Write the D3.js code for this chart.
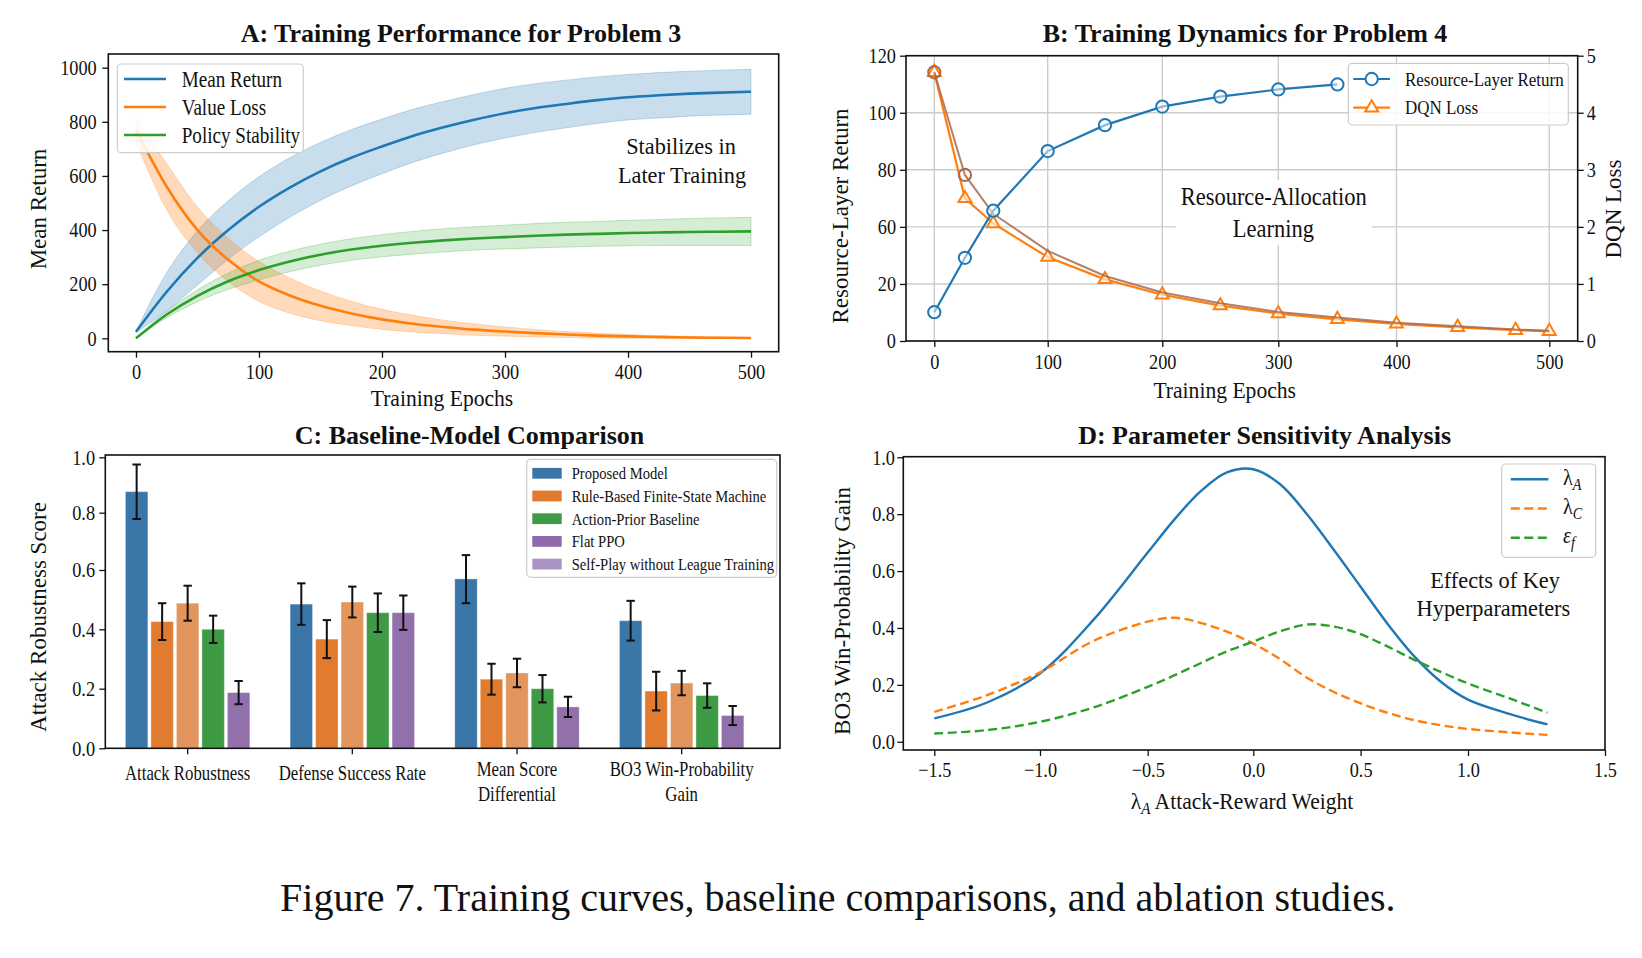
<!DOCTYPE html>
<html>
<head>
<meta charset="utf-8">
<script src="https://cdn.jsdelivr.net/npm/d3@7"></script>
<style>
  body { margin: 0; background: #fff; }
  svg text { font-family: "Liberation Serif", "Times New Roman", Times, serif; fill: #111; }
</style>
</head>
<body>
<script>
// ---------- data ----------
// A: training performance (problem 3)
var epochsA = [0, 25, 50, 75, 100, 125, 150, 175, 200, 225, 250, 275, 300, 325, 350, 375, 400, 425, 450, 475, 500];
var meanReturn   = [24, 172, 297, 400, 486, 557, 617, 667, 709, 748, 780, 808, 832, 851, 866, 880, 891, 898, 904, 908, 911];
var meanReturnHi = [26, 242, 397, 508, 597, 667, 724, 771, 810, 846, 875, 901, 924, 941, 954, 966, 975, 982, 987, 991, 994];
var meanReturnLo = [22, 102, 197, 292, 375, 447, 510, 563, 608, 650, 685, 715, 740, 761, 778, 794, 807, 814, 821, 825, 828];
var valueLoss    = [770, 560, 400, 290, 210, 158, 120, 92, 70, 54, 42, 32, 25, 19, 14, 10, 7, 5, 3, 2, 1];
var valueLossHi  = [815, 645, 485, 370, 284, 223, 175, 137, 107, 85, 67, 53, 42, 33, 25, 19, 14, 10, 7, 5, 3];
var valueLossLo  = [725, 475, 315, 210, 136, 93, 65, 47, 33, 23, 17, 11, 8, 5, 3, 1, 0, 0, 0, 0, 0];
var policyStab   = [0, 88, 157, 211, 252, 284, 309, 328, 342, 353, 362, 369, 374, 379, 383, 386, 389, 391, 393, 394, 395];
var policyStabHi = [1, 100, 179, 241, 288, 322, 348, 368, 383, 395, 405, 412, 418, 424, 429, 432, 436, 439, 443, 445, 447];
var policyStabLo = [-1, 76, 135, 181, 216, 246, 270, 288, 301, 311, 319, 326, 330, 334, 337, 340, 342, 343, 343, 343, 343];
var ticksA_x = [0, 100, 200, 300, 400, 500];
var ticksA_y = [0, 200, 400, 600, 800, 1000];

// B: training dynamics (problem 4)
var epochsB = [0, 27, 52, 100, 150, 200, 250, 300, 350];
var resourceReturn = [12.1, 35.0, 54.8, 79.9, 90.8, 98.6, 102.8, 105.8, 107.9];
var epochsLoss = [0, 27, 52, 100, 150, 200, 250, 300, 350, 400, 440, 478, 500];
var dqnLoss    = [4.71, 2.50, 2.06, 1.47, 1.08, 0.81, 0.62, 0.48, 0.38, 0.30, 0.24, 0.19, 0.17];
var dqnLossRaw = [4.71, 2.91, 2.23, 1.58, 1.14, 0.85, 0.66, 0.51, 0.41, 0.32, 0.26, 0.20, 0.18];
var rawMarked  = [0, 27];
var ticksB_x = [0, 100, 200, 300, 400, 500];
var ticksB_left = [0, 24, 48, 72, 96, 120];
var labelsB_left = ["0", "20", "60", "80", "100", "120"];
var ticksB_right = [0, 1, 2, 3, 4, 5];

// C: baseline comparison
var metrics = ["Attack Robustness", "Defense Success Rate", "Mean Score\nDifferential", "BO3 Win-Probability\nGain"];
var models = ["Proposed Model", "Rule-Based Finite-State Machine", "Action-Prior Baseline", "Flat PPO", "Self-Play without League Training"];
var proposedScore = [0.876, 0.485, 0.570, 0.429];
var ruleScore     = [0.426, 0.367, 0.232, 0.192];
var ruleScore2    = [0.488, 0.492, 0.253, 0.219];
var priorScore    = [0.400, 0.456, 0.200, 0.177];
var ppoScore      = [0.187, 0.456, 0.139, 0.110];
var proposedErr = [0.098, 0.070, 0.082, 0.067];
var ruleErr     = [0.062, 0.064, 0.052, 0.065];
var ruleErr2    = [0.059, 0.052, 0.048, 0.041];
var priorErr    = [0.046, 0.065, 0.046, 0.041];
var ppoErr      = [0.039, 0.058, 0.034, 0.032];
var ticksC_y = [0, 0.2, 0.4, 0.6, 0.8, 1.0];

// D: parameter sensitivity
var sensX       = [-1.5, -1.25, -1.0, -0.75, -0.5, -0.375, -0.25, -0.125, 0.0, 0.125, 0.25, 0.375, 0.5, 0.625, 0.75, 0.875, 1.0, 1.15, 1.29];
var gainLambdaA = [0.082, 0.138, 0.24, 0.43, 0.665, 0.78, 0.88, 0.947, 0.958, 0.905, 0.80, 0.675, 0.545, 0.415, 0.30, 0.21, 0.148, 0.098, 0.061];
var gainLambdaC = [0.105, 0.164, 0.244, 0.355, 0.422, 0.436, 0.418, 0.387, 0.345, 0.29, 0.225, 0.175, 0.135, 0.102, 0.076, 0.058, 0.045, 0.033, 0.024];
var gainEpsF    = [0.029, 0.041, 0.07, 0.121, 0.193, 0.233, 0.276, 0.318, 0.352, 0.388, 0.412, 0.405, 0.378, 0.335, 0.288, 0.245, 0.205, 0.153, 0.102];
var ticksD_x = [-1.5, -1.0, -0.5, 0, 0.5, 1.0, 1.5];
var ticksD_y = [0, 0.2, 0.4, 0.6, 0.8, 1.0];

// ---------- helpers ----------
var svg = d3.select("body").append("svg").attr("width", 1642).attr("height", 958);

function txt(g, x, y, s, o) {
  o = o || {};
  var tr = "translate(" + x + "," + y + ")";
  if (o.rot) tr += " rotate(" + o.rot + ")";
  tr += " scale(" + (o.sx || 1) + ",1)";
  return g.append("text")
    .attr("transform", tr)
    .attr("text-anchor", o.anchor || "middle")
    .attr("dy", "0.34em")
    .style("font-size", (o.size || 20) + "px")
    .style("font-weight", o.bold ? "bold" : null)
    .text(s);
}

// base symbol + italic subscript + rest
function mathTxt(g, x, y, base, sub, rest, o) {
  var t = txt(g, x, y, "", o);
  t.append("tspan").text(base).style("font-style", o.italicBase ? "italic" : null);
  t.append("tspan").text(sub).attr("dy", "0.3em").style("font-size", "0.7em").style("font-style", "italic");
  if (rest) t.append("tspan").text(rest).attr("dy", "-0.21em");
  return t;
}

function frame(g, p) {
  g.append("rect").attr("x", p.l).attr("y", p.t).attr("width", p.r - p.l).attr("height", p.b - p.t)
    .attr("fill", "none").attr("stroke", "#111").attr("stroke-width", 1.6);
}

function fixAxis(sel, size, sx) {
  sel.attr("font-family", null).attr("font-size", null);
  sel.select(".domain").remove();
  sel.selectAll(".tick line").attr("stroke", "#111").attr("stroke-width", 1.3);
  sel.selectAll(".tick text").attr("fill", "#111").style("font-size", size + "px")
    .attr("transform", "scale(" + sx + ",1)");
}

function legendBox(g, x, y, w, h) {
  g.append("rect").attr("x", x).attr("y", y).attr("width", w).attr("height", h).attr("rx", 4)
    .attr("fill", "#fff").attr("fill-opacity", 0.85).attr("stroke", "#cccccc").attr("stroke-width", 1.2);
}

var TICK = 21, TSX = 0.87;

// ---------- A ----------
var PA = {l: 108.3, r: 778.7, t: 54, b: 351.7};
var gA = svg.append("g");
var xA = d3.scaleLinear().domain([-22.5, 522.5]).range([PA.l, PA.r]);
var yA = d3.scaleLinear().domain([-49.5, 1050.6]).range([PA.b, PA.t]);

var seriesA = [
  {name: "Mean Return", color: "#1f77b4", mid: meanReturn, lo: meanReturnLo, hi: meanReturnHi, a: 0.24},
  {name: "Value Loss", color: "#ff7f0e", mid: valueLoss, lo: valueLossLo, hi: valueLossHi, a: 0.28},
  {name: "Policy Stability", color: "#2ca02c", mid: policyStab, lo: policyStabLo, hi: policyStabHi, a: 0.2}
];
seriesA.forEach(function(s) {
  var area = d3.area().curve(d3.curveMonotoneX)
    .x(function(d, i) { return xA(epochsA[i]); })
    .y0(function(d, i) { return yA(s.lo[i]); })
    .y1(function(d, i) { return yA(s.hi[i]); });
  gA.append("path").datum(s.mid).attr("d", area)
    .attr("fill", s.color).attr("fill-opacity", s.a)
    .attr("stroke", s.color).attr("stroke-opacity", 0.25).attr("stroke-width", 1);
});
seriesA.forEach(function(s) {
  var line = d3.line().curve(d3.curveMonotoneX)
    .x(function(d, i) { return xA(epochsA[i]); })
    .y(function(d) { return yA(d); });
  gA.append("path").datum(s.mid).attr("d", line)
    .attr("fill", "none").attr("stroke", s.color).attr("stroke-width", 2.6);
});
gA.append("g").attr("transform", "translate(0," + PA.b + ")")
  .call(d3.axisBottom(xA).tickValues(ticksA_x).tickFormat(d3.format("d")).tickSize(6).tickPadding(6))
  .call(fixAxis, TICK, TSX);
gA.append("g").attr("transform", "translate(" + PA.l + ",0)")
  .call(d3.axisLeft(yA).tickValues(ticksA_y).tickFormat(d3.format("d")).tickSize(6).tickPadding(7.3))
  .call(fixAxis, TICK, TSX);
frame(gA, PA);
txt(gA, 461, 33, "A: Training Performance for Problem 3", {size: 26, bold: true});
txt(gA, 442, 398, "Training Epochs", {size: 22.5, sx: 0.96});
txt(gA, 38.3, 209, "Mean Return", {size: 23, rot: -90});
txt(gA, 681, 146, "Stabilizes in", {size: 24, sx: 0.93});
txt(gA, 682, 175, "Later Training", {size: 24, sx: 0.93});

legendBox(gA, 117.3, 64, 186, 88.7);
seriesA.forEach(function(s, i) {
  var y = 79 + i * 28;
  gA.append("line").attr("x1", 124).attr("x2", 166).attr("y1", y).attr("y2", y)
    .attr("stroke", s.color).attr("stroke-width", 2.6);
  txt(gA, 181.7, y, s.name, {size: 22.5, sx: 0.85, anchor: "start"});
});

// ---------- B ----------
var PB = {l: 906, r: 1577.7, t: 55.7, b: 341};
var gB = svg.append("g");
var xB = d3.scaleLinear()
  .domain([-24.6, 0, 100, 200, 300, 400, 500, 518.6])
  .range([PB.l, 934.3, 1047.7, 1162.3, 1278.3, 1396.5, 1549.3, PB.r]);
var yBL = d3.scaleLinear().domain([0, 120]).range([PB.b, PB.t]);
var yBR = d3.scaleLinear().domain([0, 5]).range([PB.b, PB.t]);

var grid = gB.append("g").attr("stroke", "#cccccc").attr("stroke-width", 1.4);
ticksB_x.forEach(function(v) {
  grid.append("line").attr("x1", xB(v)).attr("x2", xB(v)).attr("y1", PB.t).attr("y2", PB.b);
});
ticksB_right.forEach(function(v) {
  grid.append("line").attr("x1", PB.l).attr("x2", PB.r).attr("y1", yBR(v)).attr("y2", yBR(v));
});

// annotation box sits over the grid
var annB = gB.append("g");
var a1 = txt(annB, 1273.7, 196.7, "Resource-Allocation", {size: 25, sx: 0.9});
var a2 = txt(annB, 1273.3, 228.3, "Learning", {size: 25, sx: 0.9});

var tri = d3.symbol().type(d3.symbolTriangle).size(72);
var circ = d3.symbol().type(d3.symbolCircle).size(118);

var lossLine = d3.line().x(function(d, i) { return xB(epochsLoss[i]); }).y(function(d) { return yBR(d); });
gB.append("path").datum(dqnLoss).attr("d", lossLine)
  .attr("fill", "none").attr("stroke", "#ff7f0e").attr("stroke-width", 2.2);
gB.selectAll(".triB").data(dqnLoss).enter().append("path")
  .attr("transform", function(d, i) { return "translate(" + xB(epochsLoss[i]) + "," + yBR(d) + ")"; })
  .attr("d", tri).attr("fill", "#fff").attr("fill-opacity", 0.6).attr("stroke", "#ff7f0e").attr("stroke-width", 2);

gB.append("path").datum(dqnLossRaw).attr("d", lossLine)
  .attr("fill", "none").attr("stroke", "#a8694d").attr("stroke-width", 2).attr("stroke-opacity", 0.85);
gB.selectAll(".rawB").data(rawMarked).enter().append("path")
  .attr("transform", function(e) {
    var i = epochsLoss.indexOf(e);
    return "translate(" + xB(e) + "," + yBR(dqnLossRaw[i]) + ")";
  })
  .attr("d", circ).attr("fill", "none").attr("stroke", "#a8694d").attr("stroke-width", 2);

var retLine = d3.line().x(function(d, i) { return xB(epochsB[i]); }).y(function(d) { return yBL(d); });
gB.append("path").datum(resourceReturn).attr("d", retLine)
  .attr("fill", "none").attr("stroke", "#1f77b4").attr("stroke-width", 2.2);
gB.selectAll(".circB").data(resourceReturn).enter().append("path")
  .attr("transform", function(d, i) { return "translate(" + xB(epochsB[i]) + "," + yBL(d) + ")"; })
  .attr("d", circ).attr("fill", "#fff").attr("fill-opacity", 0.5).attr("stroke", "#1f77b4").attr("stroke-width", 2);

gB.append("g").attr("transform", "translate(0," + PB.b + ")")
  .call(d3.axisBottom(xB).tickValues(ticksB_x).tickFormat(d3.format("d")).tickSize(6).tickPadding(6.9))
  .call(fixAxis, TICK, TSX);
gB.append("g").attr("transform", "translate(" + PB.l + ",0)")
  .call(d3.axisLeft(yBL).tickValues(ticksB_left)
    .tickFormat(function(d, i) { return labelsB_left[i]; }).tickSize(6).tickPadding(5.5))
  .call(fixAxis, TICK, TSX);
gB.append("g").attr("transform", "translate(" + PB.r + ",0)")
  .call(d3.axisRight(yBR).tickValues(ticksB_right).tickFormat(d3.format("d")).tickSize(6).tickPadding(4.5))
  .call(fixAxis, TICK, TSX);
frame(gB, PB);
txt(gB, 1245, 33, "B: Training Dynamics for Problem 4", {size: 26, bold: true});
txt(gB, 1224.7, 390, "Training Epochs", {size: 22.5, sx: 0.96});
txt(gB, 840, 216, "Resource-Layer Return", {size: 23, rot: -90});
txt(gB, 1613.3, 209, "DQN Loss", {size: 23, rot: -90});

legendBox(gB, 1348.3, 63.3, 220, 61.7);
[{n: "Resource-Layer Return", c: "#1f77b4", m: circ}, {n: "DQN Loss", c: "#ff7f0e", m: tri}].forEach(function(s, i) {
  var y = 79 + i * 28.7;
  gB.append("line").attr("x1", 1353.3).attr("x2", 1390).attr("y1", y).attr("y2", y)
    .attr("stroke", s.c).attr("stroke-width", 2.2);
  gB.append("path").attr("transform", "translate(1371.7," + y + ")").attr("d", s.m)
    .attr("fill", "#fff").attr("stroke", s.c).attr("stroke-width", 2);
  txt(gB, 1405, y, s.n, {size: 19.5, sx: 0.87, anchor: "start"});
});

// white box behind the annotation text (hides grid)
(function() {
  var b1 = a1.node().getBoundingClientRect(), b2 = a2.node().getBoundingClientRect();
  var x0 = Math.min(b1.left, b2.left) - 5, x1 = Math.max(b1.right, b2.right) + 5;
  var y0 = b1.top - 3, y1 = b2.bottom + 3;
  annB.insert("rect", ":first-child").attr("x", x0).attr("y", y0)
    .attr("width", x1 - x0).attr("height", y1 - y0).attr("fill", "#fff");
})();

// ---------- C ----------
var PC = {l: 105.3, r: 780, t: 455, b: 748.3};
var gC = svg.append("g");
var xC = d3.scaleBand().domain(metrics).range([PC.l, 764]);
var xInner = d3.scaleBand().domain(d3.range(5)).range([-63.75, 63.75]).paddingInner(0.12).paddingOuter(0.06);
var yC = d3.scaleLinear()
  .domain([0, 0.2, 0.4, 0.6, 0.8, 1.0, 1.008])
  .range([PC.b, 688.7, 629.3, 570, 512.7, 457.3, PC.t]);

var barSeries = [
  {v: proposedScore, e: proposedErr, c: "#3b76a9"},
  {v: ruleScore, e: ruleErr, c: "#e07b30"},
  {v: ruleScore2, e: ruleErr2, c: "#e2955c"},
  {v: priorScore, e: priorErr, c: "#3f9a46"},
  {v: ppoScore, e: ppoErr, c: "#9270ab"}
];
var legendColorsC = ["#3b76a9", "#e07b30", "#3f9a46", "#8f69ab", "#ab93c6"];

barSeries.forEach(function(s, k) {
  metrics.forEach(function(m, j) {
    var cx = xC(m) + xC.bandwidth() / 2;
    var bx = cx + xInner(k);
    gC.append("rect").attr("x", bx).attr("width", xInner.bandwidth())
      .attr("y", yC(s.v[j])).attr("height", PC.b - yC(s.v[j]))
      .attr("fill", s.c).attr("stroke", "#fff").attr("stroke-opacity", 0.35).attr("stroke-width", 1);
  });
});
barSeries.forEach(function(s, k) {
  metrics.forEach(function(m, j) {
    var ex = xC(m) + xC.bandwidth() / 2 + xInner(k) + xInner.bandwidth() / 2;
    var y0 = yC(s.v[j] - s.e[j]), y1 = yC(s.v[j] + s.e[j]);
    var eb = gC.append("g").attr("stroke", "#111").attr("stroke-width", 2);
    eb.append("line").attr("x1", ex).attr("x2", ex).attr("y1", y0).attr("y2", y1);
    eb.append("line").attr("x1", ex - 4.2).attr("x2", ex + 4.2).attr("y1", y0).attr("y2", y0);
    eb.append("line").attr("x1", ex - 4.2).attr("x2", ex + 4.2).attr("y1", y1).attr("y2", y1);
  });
});
metrics.forEach(function(m) {
  var cx = xC(m) + xC.bandwidth() / 2;
  gC.append("line").attr("x1", cx).attr("x2", cx).attr("y1", PC.b).attr("y2", PC.b + 6)
    .attr("stroke", "#111").attr("stroke-width", 1.3);
  var lines = m.split("\n");
  if (lines.length === 1) {
    txt(gC, cx, 772.7, lines[0], {size: 21, sx: 0.8});
  } else {
    txt(gC, cx, 769, lines[0], {size: 21, sx: 0.8});
    txt(gC, cx, 794, lines[1], {size: 21, sx: 0.8});
  }
});
gC.append("g").attr("transform", "translate(" + PC.l + ",0)")
  .call(d3.axisLeft(yC).tickValues(ticksC_y).tickFormat(d3.format(".1f")).tickSize(6).tickPadding(5.8))
  .call(fixAxis, TICK, TSX);
frame(gC, PC);
txt(gC, 469.5, 435, "C: Baseline-Model Comparison", {size: 26, bold: true});
txt(gC, 38.3, 617, "Attack Robustness Score", {size: 23, rot: -90});

legendBox(gC, 526.7, 459.3, 250, 118);
models.forEach(function(n, i) {
  var y = 473.3 + i * 22.7;
  gC.append("rect").attr("x", 532.3).attr("y", y - 5.4).attr("width", 29.4).attr("height", 10.8)
    .attr("fill", legendColorsC[i]);
  txt(gC, 571.7, y, n, {size: 17.5, sx: 0.835, anchor: "start"});
});

// ---------- D ----------
var PD = {l: 903.3, r: 1605, t: 456.7, b: 750};
var gD = svg.append("g");
var xD = d3.scaleLinear()
  .domain([-1.645, -1.5, -1.0, -0.5, 0, 0.5, 1.0, 1.5])
  .range([PD.l, 934.3, 1040, 1147.7, 1253.3, 1360.6, 1468, PD.r]);
var yD = d3.scaleLinear().domain([-0.029, 1.002]).range([PD.b, PD.t]);

var seriesD = [
  {sub: "A", base: "λ", v: gainLambdaA, c: "#1f77b4", dash: null},
  {sub: "C", base: "λ", v: gainLambdaC, c: "#ff7f0e", dash: "9,4.5"},
  {sub: "f", base: "ε", v: gainEpsF, c: "#2ca02c", dash: "9,4.5"}
];
var lineD = d3.line().curve(d3.curveCatmullRom.alpha(0.5))
  .x(function(d, i) { return xD(sensX[i]); }).y(function(d) { return yD(d); });
seriesD.forEach(function(s) {
  gD.append("path").datum(s.v).attr("d", lineD).attr("fill", "none")
    .attr("stroke", s.c).attr("stroke-width", 2.4).attr("stroke-dasharray", s.dash);
});
gD.append("g").attr("transform", "translate(0," + PD.b + ")")
  .call(d3.axisBottom(xD).tickValues(ticksD_x).tickFormat(d3.format(".1f")).tickSize(6).tickPadding(6.2))
  .call(fixAxis, TICK, TSX);
gD.append("g").attr("transform", "translate(" + PD.l + ",0)")
  .call(d3.axisLeft(yD).tickValues(ticksD_y).tickFormat(d3.format(".1f")).tickSize(6).tickPadding(3.6))
  .call(fixAxis, TICK, TSX);
frame(gD, PD);
txt(gD, 1264.6, 435, "D: Parameter Sensitivity Analysis", {size: 26, bold: true});
mathTxt(gD, 1242, 801.7, "λ", "A", " Attack-Reward Weight", {size: 22.5, sx: 0.96});
txt(gD, 841.7, 611, "BO3 Win-Probability Gain", {size: 23, rot: -90});
txt(gD, 1495, 580, "Effects of Key", {size: 24, sx: 0.93});
txt(gD, 1493.4, 608.3, "Hyperparameters", {size: 24, sx: 0.93});

legendBox(gD, 1501.7, 464, 94, 93.3);
seriesD.forEach(function(s, i) {
  var y = 479.3 + i * 29.2;
  gD.append("line").attr("x1", 1510.8).attr("x2", 1548.4).attr("y1", y).attr("y2", y)
    .attr("stroke", s.c).attr("stroke-width", 2.4).attr("stroke-dasharray", s.dash);
  mathTxt(gD, 1562.9, y - 2, s.base, s.sub, null, {size: 22.5, sx: 0.9, anchor: "start", italicBase: s.base === "ε"});
});

// ---------- caption ----------
txt(svg, 837.8, 897, "Figure 7. Training curves, baseline comparisons, and ablation studies.", {size: 40});
</script>
</body>
</html>
